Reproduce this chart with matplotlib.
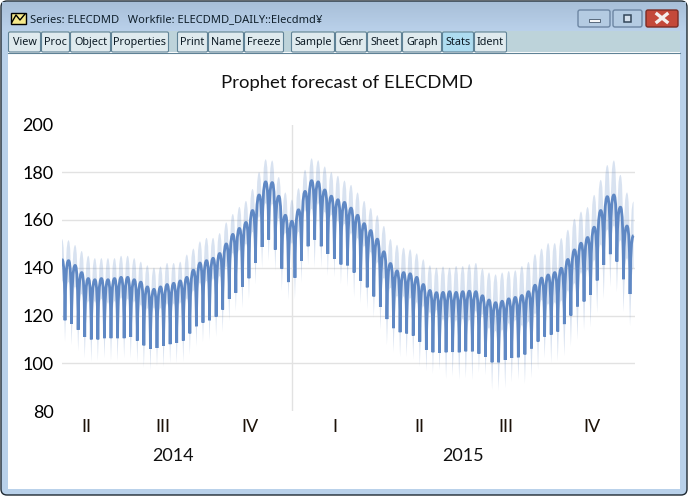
import numpy as np
import pandas as pd
import matplotlib
matplotlib.use('agg')
import matplotlib.pyplot as plt
import matplotlib.dates as mdates
from matplotlib.path import Path
from matplotlib.patches import PathPatch, Rectangle, FancyBboxPatch

W, H = 688, 497

# weekly highs and lows
first_peak = '2014-05-01'
peak = [143.5, 143, 141, 138, 135.5, 135, 135.5, 135, 135.5, 136, 136, 135, 134, 132, 131,
        132, 133, 133.5, 134.5, 136, 139, 142, 143, 144, 146, 150, 154, 156.5, 159, 164,
        170.5, 176, 175.7, 170, 162, 159.5, 164.3, 172, 176.5, 176, 172.6, 170, 168.5, 167.4,
        165, 162, 158.5, 155.6, 152, 146.7, 141.8, 138.7, 138, 137.5, 136, 133, 130.5, 129.6, 129.7,
        130, 129.7, 130, 130.2, 130, 128.3, 126.5, 125.4, 126, 127, 127.6, 128.4, 130, 132.7,
        135.7, 137, 138, 139.8, 143.5, 147.5, 150.3, 152.7, 157, 164, 169.8, 170.5, 165.4, 157.5, 153.5]
trough = [118, 116.5, 114, 111, 110, 110, 110.5, 110.5, 110.5, 110.5, 111, 109.5, 107.5, 106,
          106.4, 107.3, 108, 108.5, 109.5, 112.5, 115.5, 117, 118, 119.5, 122.5, 127, 129.5, 132, 135.6,
          142, 148.7, 151.8, 147.6, 139.6, 134, 135.8, 143, 149, 151.8, 149, 145.8, 143.8, 141.4,
          141, 138, 134.6, 131.8, 128, 123.7, 118.5, 114.7, 113, 112.5, 111.6, 109, 105.7, 104.6, 104.3,
          104.6, 104.7, 104.6, 105, 105, 104, 102.8, 100.4, 100.4, 101.4, 102.2, 102.5, 103.7, 106.2,
          109.1, 111.2, 112, 113.3, 116.4, 120, 123.8, 125.9, 128.7, 134.7, 141.2, 145.7, 142.6, 135.2, 129]
band_hi = [152, 151.5, 149.5, 147, 145, 144, 144, 144, 144, 145, 145, 144, 142.5, 141, 140,
           140.5, 142, 142, 142.5, 145.5, 148, 151, 152.5, 152.5, 154.5, 159, 162.5, 165.5, 168, 173,
           180, 185.4, 184.9, 178, 171.5, 168.5, 173.3, 181, 185.8, 185, 182.4, 180, 178.5, 176.5,
           174.7, 171.5, 168, 165, 162, 157.5, 152, 149.6, 148.4, 147.7, 146, 143.5, 141, 140, 140.5,
           140, 140.7, 140.7, 141.5, 142, 139.6, 138, 137.2, 138, 138.6, 138.9, 140.7, 142.4, 145.7,
           148, 150.3, 150.3, 152.4, 155.9, 160.5, 163.5, 165.4, 170.5, 176.8, 183, 184.9, 178.9, 171.5, 167.7]
band_lo = [109, 107.5, 105, 102, 100.5, 101, 102, 101, 101, 102, 102, 100.5, 98, 97,
           98.7, 98.4, 100, 100, 100.5, 103.6, 107, 108.7, 109.5, 111, 113, 117.5, 121.7, 123, 126.6,
           133, 139.7, 142.8, 138.6, 130.3, 126.5, 126.8, 133.8, 141, 140, 140, 136.6, 136, 133,
           132, 127.5, 125, 122.5, 119, 114, 107.5, 104.5, 102.5, 102.5, 101.5, 98.5, 96.6, 95.5, 97,
           93.4, 94.4, 93, 93.7, 93, 96, 95, 88.8, 88.5, 89.5, 92, 93, 91.3, 93.7,
           97.3, 102, 100, 100.8, 102.9, 107, 109.8, 113.7, 115, 121, 126.9, 131.9, 129.7, 121.3, 115.4]

y_ticks = [80, 100, 120, 140, 160, 180, 200]
y_grid = [100, 120, 140, 160, 180]
quarter_labels = ['II', 'III', 'IV', 'I', 'II', 'III', 'IV']
quarter_dates = ['2014-05-27', '2014-08-16', '2014-11-17', '2015-02-16', '2015-05-17', '2015-08-17', '2015-11-17']
year_labels = ['2014', '2015']
year_dates = ['2014-08-27', '2015-07-02']
year_break = '2015-01-01'

toolbar = [('View', 8, 41), ('Proc', 41, 70), ('Object', 70, 111), ('Properties', 111, 169),
           ('Print', 177, 208), ('Name', 208, 244), ('Freeze', 244, 284),
           ('Sample', 291, 335), ('Genr', 335, 367), ('Sheet', 367, 402), ('Graph', 402, 442),
           ('Stats', 442, 474), ('Ident', 474, 507)]

UI_FONT = 'Noto Sans'
CHART_FONT = 'Lato'
LINE_COL = '#5f88c4'


def arches(xp, yp, xt, yt, foot=0.04):
    # peak -> trough -> peak ..., flat on top and sharp at the bottom
    verts = [(xp[0], yp[0])]
    codes = [Path.MOVETO]
    for i in range(len(xt)):
        d = xt[i] - xp[i]
        verts += [(xp[i] + 0.62 * d, yp[i]), (xt[i] - foot * d, yp[i] - 0.35 * (yp[i] - yt[i])), (xt[i], yt[i])]
        d = xp[i + 1] - xt[i]
        verts += [(xt[i] + foot * d, yp[i + 1] - 0.35 * (yp[i + 1] - yt[i])), (xp[i + 1] - 0.62 * d, yp[i + 1]), (xp[i + 1], yp[i + 1])]
        codes += [Path.CURVE4] * 6
    return verts, codes


fig = plt.figure(figsize=(W / 100, H / 100), dpi=100)

# window chrome, in pixels
bg = fig.add_axes([0, 0, 1, 1], zorder=0)
bg.set_xlim(0, W)
bg.set_ylim(H, 0)
bg.axis('off')
bg.add_patch(Rectangle((0, 0), W, H, color='white'))
bg.add_patch(FancyBboxPatch((1, 1), W - 2, H - 3, boxstyle='round,pad=0,rounding_size=6',
                            fc='#b9d1ea', ec='#1f2a33', lw=1))
grad = np.linspace(0, 1, 32).reshape(-1, 1)
c0, c1 = np.array([0.66, 0.75, 0.85]), np.array([0.73, 0.82, 0.92])
bg.imshow((c0 + (c1 - c0) * grad)[:, None, :].reshape(32, 1, 3), extent=(2, W - 2, 32, 2), aspect='auto', zorder=1)
bg.set_xlim(0, W)
bg.set_ylim(H, 0)
bg.add_patch(Rectangle((8, 31), 672, 22, fc='#bdd3da', ec='none', zorder=2))
bg.add_patch(Rectangle((8, 52), 672, 437, fc='white', ec='none', zorder=2))
bg.plot([8, 680], [52.5, 52.5], color='#5f8296', lw=0.8, zorder=3)

# title bar icon and text
bg.add_patch(Rectangle((11, 13), 15, 11, fc='#f5e88a', ec='black', lw=1, zorder=3))
bg.plot([12, 16, 20, 25], [22, 15, 20, 14], color='black', lw=1, zorder=4)
bg.text(30, 19.5, 'Series: ELECDMD   Workfile: ELECDMD_DAILY::Elecdmd¥', fontsize=8.0, family=UI_FONT,
        color='#10202c', va='center', ha='left', zorder=4)

# window buttons
for x0, x1, col, edge in [(578, 610, '#b4cbe2', '#6d86a3'), (613, 642, '#b4cbe2', '#6d86a3'), (646, 678, '#c4493a', '#7c2c25')]:
    bg.add_patch(FancyBboxPatch((x0, 10), x1 - x0, 17, boxstyle='round,pad=0,rounding_size=2',
                                fc=col, ec=edge, lw=1, zorder=3))
bg.add_patch(Rectangle((589, 19), 11, 3, fc='#f4f6f8', ec='#44566a', lw=0.6, zorder=4))
bg.add_patch(Rectangle((624, 15), 7, 7, fc='#d5e0ec', ec='#33465a', lw=1.1, zorder=4))
bg.plot([657, 667], [14, 22], color='#f4f0ee', lw=2.4, zorder=4)
bg.plot([657, 667], [22, 14], color='#f4f0ee', lw=2.4, zorder=4)

# toolbar buttons
for name, x0, x1 in toolbar:
    col = '#aedcf0' if name == 'Stats' else '#dfeaee'
    bg.add_patch(FancyBboxPatch((x0 + 0.5, 32), x1 - x0 - 1, 20, boxstyle='round,pad=0,rounding_size=1.5',
                                fc=col, ec='#5f8296', lw=0.8, zorder=3))
    bg.text((x0 + x1) / 2, 42.3, name, fontsize=7.8, family=UI_FONT, color='#0c1a24', ha='center', va='center', zorder=4)

# chart area
left, right, top, bottom = 62, 635, 124.5, 411
ax = fig.add_axes([left / W, 1 - bottom / H, (right - left) / W, (bottom - top) / H], zorder=2)
ax.patch.set_alpha(0)
for s in ax.spines.values():
    s.set_visible(False)

start = mdates.date2num(pd.Timestamp(first_peak))
xp = start + 7 * np.arange(len(peak))
xt = xp[:-1] + 3.2
peak = np.array(peak)
trough = np.array(trough)
band_hi = np.array(band_hi)
band_lo = np.array(band_lo)

ax.set_xlim(start, mdates.date2num(pd.Timestamp('2016-01-01')) + 0.5)
ax.set_ylim(80, 200)

for v in y_grid:
    ax.axhline(v, color='#e2e2e2', lw=1, zorder=1)
ax.axvline(mdates.date2num(pd.Timestamp(year_break)), color='#e2e2e2', lw=1, zorder=1)

# forecast band, upper edge forward and lower edge back
up_v, up_c = arches(xp, band_hi, xt, trough + (band_hi[:-1] - peak[:-1]), foot=0.2)
lo_v, lo_c = arches(xp, peak - np.append(trough - band_lo, trough[-1] - band_lo[-1]), xt, band_lo, foot=0.42)
band_verts = up_v + [lo_v[-1]] + lo_v[::-1][1:] + [up_v[0]]
band_codes = up_c + [Path.LINETO] + lo_c[1:] + [Path.LINETO]
ax.add_patch(PathPatch(Path(band_verts, band_codes), fc=LINE_COL, alpha=0.24, ec='none', zorder=2))

# forecast line
v, c = arches(xp, peak, xt, trough, foot=0.08)
ax.add_patch(PathPatch(Path(v, c), fc='none', ec=LINE_COL, lw=2.0, joinstyle='bevel', zorder=3))

ax.set_yticks(y_ticks)
ax.tick_params(axis='y', length=0, pad=6, labelsize=13)
ax.set_xticks([mdates.date2num(pd.Timestamp(d)) for d in quarter_dates])
ax.set_xticklabels(quarter_labels)
ax.tick_params(axis='x', length=0, pad=6, labelsize=13, labelcolor='#1c1208')
for lab in ax.get_yticklabels() + ax.get_xticklabels():
    lab.set_family(CHART_FONT)

trans = ax.get_xaxis_transform()
for name, d in zip(year_labels, year_dates):
    ax.text(mdates.date2num(pd.Timestamp(d)), -45 / (bottom - top), name, transform=trans,
            fontsize=13, family=CHART_FONT, color='#111111', ha='center', va='center')

fig.text(347 / W, 1 - 83 / H, 'Prophet forecast of ELECDMD', fontsize=13.3, family=CHART_FONT,
         color='#111111', ha='center', va='center', zorder=5)

fig.savefig('out.png', dpi=100)
